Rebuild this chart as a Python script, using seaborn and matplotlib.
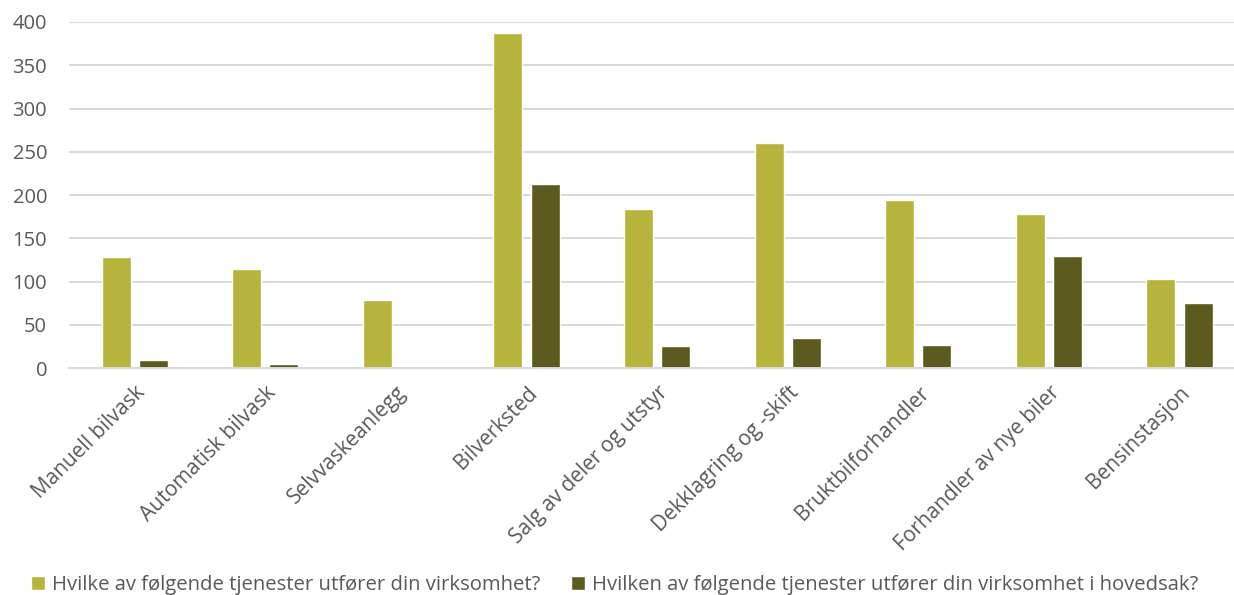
import pandas as pd
import matplotlib
matplotlib.use("Agg")
import matplotlib.pyplot as plt
import seaborn as sns

sns.set_style("white")
plt.rcParams['font.family'] = ['Open Sans', 'DejaVu Sans']

# data
categories = ["Manuell bilvask", "Automatisk bilvask", "Selvvaskeanlegg", "Bilverksted",
              "Salg av deler og utstyr", "Dekklagring og -skift", "Bruktbilforhandler",
              "Forhandler av nye biler", "Bensinstasjon"]
series_names = ["Hvilke av følgende tjenester utfører din virksomhet?",
                "Hvilken av følgende tjenester utfører din virksomhet i hovedsak?"]
alle_tjenester = [129, 115, 79, 387, 184, 260, 194, 178, 103]
hovedsak = [10, 5, 0, 213, 26, 35, 27, 130, 75]

colors = ["#B7B43E", "#5C5A1F"]
grey_text = "#595959"
grid_col = "#D9D9D9"
fs = 14.5

df = pd.DataFrame({"kategori": categories, series_names[0]: alle_tjenester,
                   series_names[1]: hovedsak})
df = df.melt(id_vars="kategori", var_name="serie", value_name="antall")

fig = plt.figure(figsize=(12.34, 5.95), dpi=100)
ax = fig.add_axes([69.4 / 1234, (595 - 368.3) / 595, 9 * 130.6 / 1234, 346.4 / 595])

sns.barplot(data=df, x="kategori", y="antall", hue="serie", palette=colors,
            width=0.57, gap=0.22, ax=ax, saturation=1)

ax.set_ylim(0, 400)
ax.set_xlim(-0.5, len(categories) - 0.5)
ax.set_yticks(range(0, 401, 50))
ax.yaxis.grid(True, color=grid_col, linewidth=1.4)
ax.set_axisbelow(True)
for side in ["top", "right", "left"]:
    ax.spines[side].set_visible(False)
ax.spines["bottom"].set_color(grid_col)
ax.spines["bottom"].set_linewidth(1.4)

ax.set_xlabel("")
ax.set_ylabel("")
ax.tick_params(axis="y", length=0, pad=16, labelsize=fs, labelcolor=grey_text)
ax.tick_params(axis="x", length=0, pad=10, labelsize=15, labelcolor=grey_text)
for lbl in ax.get_xticklabels():
    lbl.set_rotation(45)
    lbl.set_ha("right")
    lbl.set_rotation_mode("anchor")

# legend kept just inside the right edge
handles, labels = ax.get_legend_handles_labels()
ax.legend_.remove()
fig.legend(handles, labels, loc="center left", bbox_to_anchor=(0.01, 0.017),
           ncol=2, frameon=False, fontsize=14.6, labelcolor=grey_text,
           handlelength=0.7, handleheight=0.7, handletextpad=0.35, columnspacing=1.5)

fig.savefig("out.png", dpi=100)
